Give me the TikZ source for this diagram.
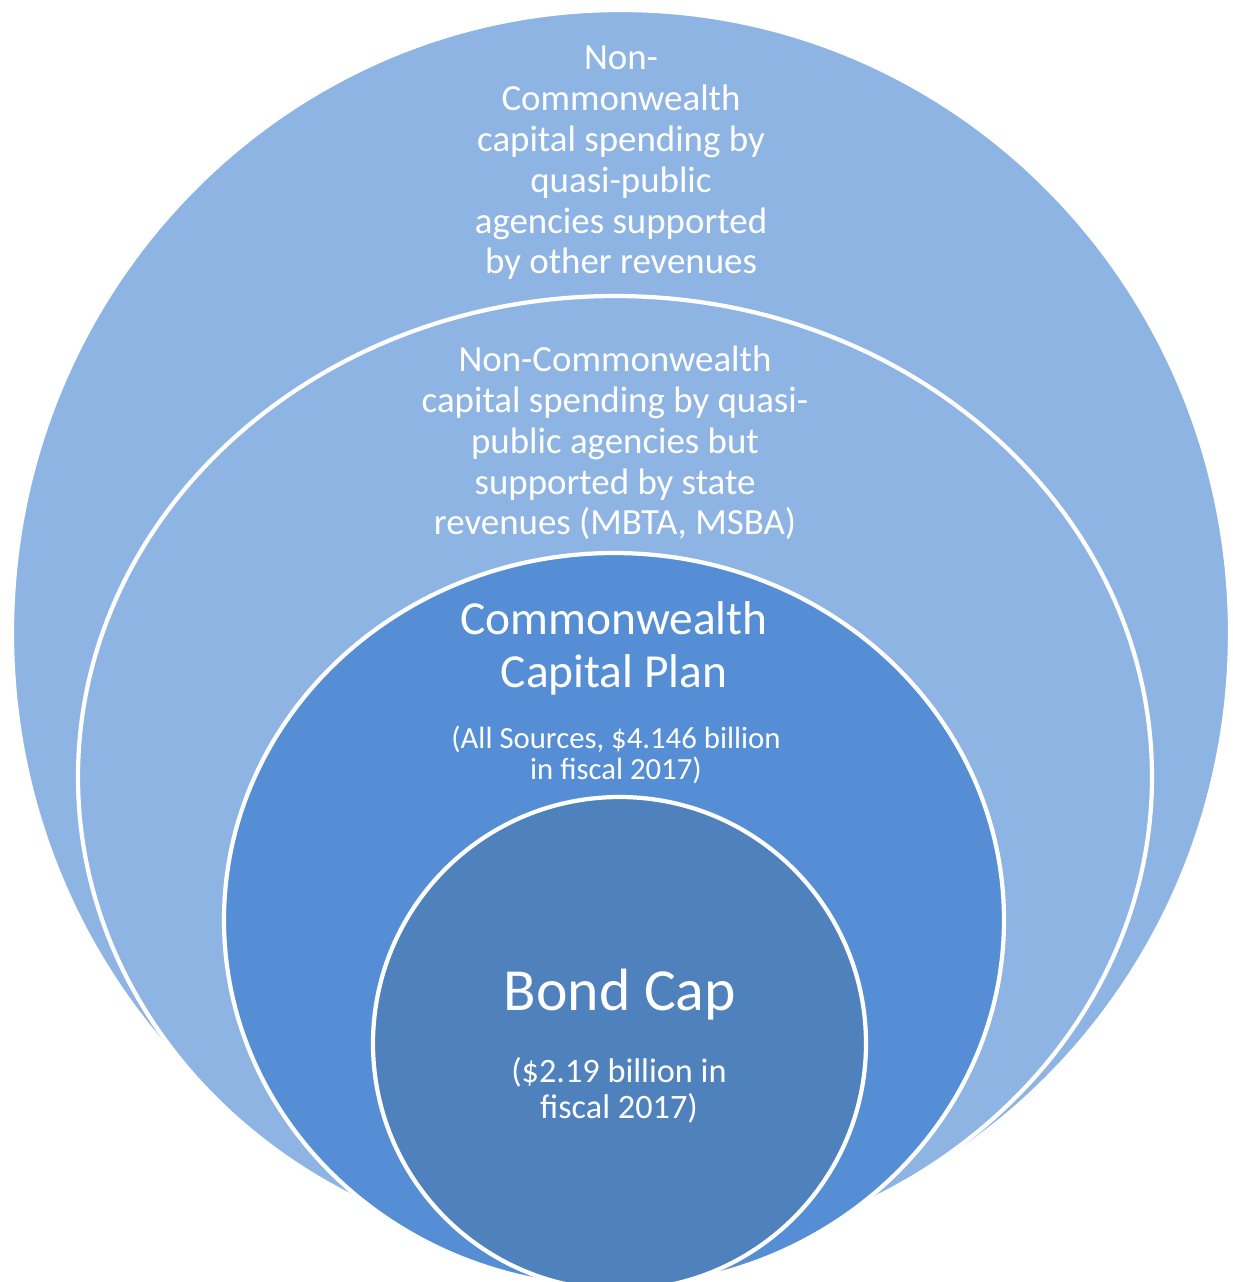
\documentclass[tikz,border=0pt]{standalone}
\usepackage{fontspec}
\setmainfont{Carlito}
\usepackage{tikz}
\usetikzlibrary{positioning}
\definecolor{ringlight}{RGB}{142,180,227}
\definecolor{ringmid}{RGB}{85,142,213}
\definecolor{ringcore}{RGB}{79,129,189}
\tikzstyle{ring} = [draw=white, line width=2.4pt]
\tikzstyle{ringtext} = [text=white, align=center, inner sep=0pt]

\begin{document}
\begin{tikzpicture}[x=0.02cm, y=-0.02cm]
    \useasboundingbox (0,0) rectangle (1233,1282);
    \clip (0,0) rectangle (1233,1282);
    % Rings
    \filldraw[ring, fill=ringlight] (621,633) ellipse [x radius=609, y radius=623];
    \filldraw[ring, fill=ringlight] (615,777) ellipse [x radius=537, y radius=481];
    \filldraw[ring, fill=ringmid] (614,920) ellipse [x radius=390, y radius=367];
    \filldraw[ring, fill=ringcore] (619.5,1043.5) ellipse [x radius=246.5, y radius=246.5];

    % Texts
    \node[ringtext, font=\fontsize{21}{23.2}\selectfont] (othertext) at (621,163)
        {Non-\\Commonwealth\\capital spending by\\quasi-public\\agencies supported\\by other revenues};
    \node[ringtext, font=\fontsize{21}{23.2}\selectfont] (statetext) at (615,443)
        {Non-Commonwealth\\capital spending by quasi-\\public agencies but\\supported by state\\revenues (MBTA, MSBA)};
    \node[ringtext, font=\fontsize{27}{30}\selectfont] (plantitle) at (614,648) {Commonwealth\\Capital Plan};
    \node[ringtext, font=\fontsize{17.5}{18}\selectfont] (plannote) at (616,755) {(All Sources, \$4.146 billion\\in fiscal 2017)};
    \node[ringtext, font=\fontsize{34}{36}\selectfont] (captitle) at (620,995) {Bond Cap};
    \node[ringtext, font=\fontsize{19.5}{20.5}\selectfont] (capnote) at (619,1090) {(\$2.19 billion in\\fiscal 2017)};
\end{tikzpicture}
\end{document}
